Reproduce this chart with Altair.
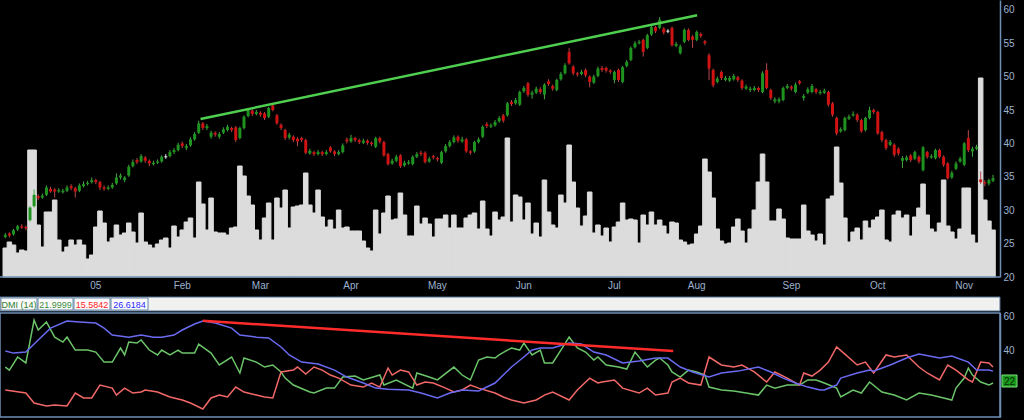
import altair as alt
import pandas as pd

# ---------------- price data (daily candles, trading-day index) ----------------
open_ = [
    26.0, 26.5, 26.4, 27.1, 27.6, 27.5, 28.5, 30.6, 32.1, 31.9,
    32.3, 33.2, 33.1, 32.8, 32.7, 32.9, 33.6, 33.3, 32.9, 33.6,
    33.9, 34.2, 34.5, 34.2, 33.4, 33.2, 33.4, 34.0, 34.9, 34.5,
    35.2, 36.6, 37.5, 37.3, 37.9, 37.4, 36.9, 37.1, 37.3, 38.0,
    38.1, 38.7, 39.0, 40.0, 39.3, 39.7, 40.6, 41.6, 43.0, 42.3,
    41.0, 41.6, 41.0, 41.6, 42.0, 42.3, 42.4, 40.8, 42.3, 44.1,
    44.9, 44.4, 44.6, 44.5, 44.0, 45.7, 44.2, 42.8, 42.0, 40.9,
    41.0, 40.7, 40.8, 40.5, 38.5, 38.7, 38.4, 38.7, 38.4, 39.4,
    38.8, 38.4, 38.7, 40.6, 40.3, 40.8, 40.5, 40.1, 40.4, 40.1,
    39.5, 40.8, 40.2, 38.4, 37.0, 37.4, 38.2, 36.7, 37.0, 36.9,
    38.0, 38.6, 38.6, 37.3, 38.1, 37.8, 37.1, 38.8, 39.6, 40.2,
    41.0, 40.3, 40.6, 38.8, 38.8, 40.2, 41.0, 42.9, 42.5, 42.7,
    43.3, 44.2, 44.2, 46.2, 46.0, 45.8, 47.8, 49.0, 47.3, 47.6,
    48.1, 47.3, 49.3, 48.6, 48.0, 49.6, 50.5, 53.7, 51.5, 50.5,
    50.4, 51.0, 50.0, 49.1, 50.1, 51.3, 51.3, 50.9, 49.5, 51.0,
    49.2, 51.6, 52.5, 54.4, 55.0, 55.5, 54.3, 56.3, 57.4, 57.3,
    57.2, 56.8, 57.3, 54.6, 53.5, 55.2, 57.0, 56.0, 55.5, 56.4,
    55.3, 53.2, 51.0, 49.2, 50.7, 49.5, 49.4, 49.6, 49.9, 49.4,
    48.2, 48.0, 48.0, 48.3, 47.7, 51.0, 48.0, 46.3, 46.3, 46.5,
    48.3, 48.5, 47.7, 49.3, 46.8, 47.6, 47.7, 48.1, 47.5, 47.6,
    47.7, 46.0, 43.8, 41.8, 42.0, 43.7, 44.2, 44.3, 43.5, 42.0,
    43.8, 45.0, 44.7, 41.7, 40.5, 39.8, 39.8, 39.2, 37.4, 37.5,
    38.2, 37.7, 38.0, 36.0, 38.7, 37.9, 37.8, 39.0, 38.0, 37.0,
    34.9, 36.2, 37.3, 36.8, 40.8, 38.8, 39.2, 34.6, 34.2, 34.0,
    34.4,
]
close = [
    26.3, 26.2, 27.0, 27.6, 27.4, 27.3, 30.4, 32.3, 31.8, 32.2,
    33.4, 32.8, 32.8, 33.0, 32.9, 33.4, 33.3, 32.8, 33.7, 33.9,
    34.1, 34.5, 34.2, 33.4, 33.2, 33.4, 33.8, 34.9, 35.2, 34.9,
    36.5, 37.2, 37.2, 38.1, 37.4, 37.0, 37.1, 37.3, 38.0, 38.0,
    38.7, 39.0, 39.8, 39.6, 39.6, 40.6, 41.4, 43.0, 42.3, 42.6,
    41.6, 41.3, 41.4, 42.1, 42.5, 42.0, 40.5, 42.3, 44.0, 45.0,
    44.4, 44.7, 44.3, 43.8, 45.3, 45.0, 43.0, 42.3, 40.8, 41.3,
    40.5, 40.3, 40.5, 38.6, 38.9, 38.4, 38.7, 38.4, 38.7, 38.8,
    38.4, 38.7, 39.7, 40.3, 40.8, 40.5, 40.2, 40.4, 40.1, 39.9,
    40.8, 40.3, 38.2, 36.9, 37.4, 38.0, 36.6, 37.1, 37.2, 38.0,
    38.4, 38.4, 37.2, 37.7, 37.9, 37.6, 38.7, 39.6, 40.2, 40.9,
    40.4, 40.6, 38.8, 38.6, 40.2, 40.6, 42.5, 42.6, 42.7, 43.2,
    43.8, 43.4, 46.0, 45.9, 46.5, 47.7, 48.3, 47.3, 47.6, 48.2,
    47.7, 48.8, 48.9, 48.2, 49.5, 50.4, 51.7, 52.0, 50.5, 50.3,
    50.7, 50.2, 49.2, 50.0, 51.2, 51.0, 50.9, 50.7, 50.7, 49.5,
    51.4, 52.2, 54.3, 55.0, 55.2, 53.7, 56.2, 57.4, 56.8, 58.5,
    56.6, 56.8, 54.7, 54.9, 54.5, 57.0, 55.5, 55.5, 56.7, 56.1,
    55.0, 51.2, 48.7, 49.7, 49.8, 49.8, 49.8, 50.1, 49.5, 48.3,
    48.5, 48.2, 48.3, 48.0, 50.5, 48.3, 46.8, 46.6, 46.6, 48.3,
    48.6, 48.2, 48.8, 49.0, 47.1, 48.1, 48.6, 47.7, 47.7, 47.9,
    45.8, 44.3, 41.5, 42.1, 43.8, 44.0, 44.4, 43.5, 41.8, 43.8,
    45.0, 44.7, 41.5, 40.5, 39.3, 40.2, 38.3, 38.5, 37.8, 37.9,
    37.5, 38.7, 37.3, 39.4, 38.0, 38.1, 39.0, 38.0, 36.8, 34.8,
    35.6, 37.0, 37.7, 40.0, 39.0, 39.2, 39.5, 34.2, 34.0, 34.5,
    34.8,
]
high = [
    26.6, 26.7, 27.2, 27.8, 27.9, 27.7, 30.6, 33.1, 32.4, 32.5,
    33.7, 33.5, 33.3, 33.3, 33.2, 33.7, 33.9, 33.5, 34.0, 34.3,
    34.4, 34.9, 34.7, 34.4, 33.7, 33.7, 34.1, 35.5, 35.5, 35.1,
    36.8, 37.6, 37.8, 38.4, 38.1, 37.6, 37.4, 37.6, 38.2, 38.4,
    39.0, 39.3, 40.1, 40.3, 39.9, 40.9, 41.7, 43.4, 43.2, 42.9,
    41.9, 41.8, 41.7, 42.4, 42.8, 42.5, 42.6, 42.5, 44.2, 45.3,
    45.1, 45.0, 44.8, 44.7, 45.5, 46.0, 44.4, 43.0, 42.2, 41.6,
    41.2, 40.9, 41.0, 40.7, 39.2, 38.9, 39.0, 38.9, 39.0, 39.6,
    39.0, 39.0, 40.0, 40.9, 41.3, 41.0, 40.7, 40.7, 40.6, 40.3,
    41.0, 41.0, 40.4, 38.6, 37.7, 38.3, 38.4, 37.4, 37.5, 38.2,
    38.7, 38.9, 38.8, 38.0, 38.3, 38.0, 38.9, 39.9, 40.5, 41.2,
    41.2, 41.0, 40.8, 39.0, 40.4, 40.9, 42.7, 43.2, 43.0, 43.5,
    44.1, 44.4, 46.2, 46.5, 46.8, 47.9, 48.6, 49.2, 47.9, 48.5,
    48.4, 49.0, 49.6, 48.8, 49.7, 50.7, 52.0, 54.3, 51.7, 50.7,
    51.0, 51.2, 50.2, 50.3, 51.5, 51.6, 51.5, 51.1, 50.9, 51.2,
    51.6, 52.5, 54.5, 55.3, 55.5, 55.7, 56.4, 57.7, 57.6, 58.9,
    57.4, 57.1, 57.5, 55.2, 54.8, 57.2, 57.2, 56.2, 56.9, 56.6,
    55.5, 53.5, 51.2, 50.0, 50.9, 50.1, 50.1, 50.4, 50.1, 49.6,
    48.8, 48.5, 48.6, 48.5, 50.8, 52.0, 48.2, 46.9, 46.9, 48.5,
    48.9, 48.7, 49.1, 49.5, 47.4, 48.4, 48.9, 48.3, 48.0, 48.2,
    47.9, 46.2, 44.0, 42.4, 44.0, 44.3, 44.8, 44.5, 43.7, 44.0,
    45.5, 45.2, 44.9, 41.9, 40.7, 40.5, 40.0, 39.4, 38.1, 38.2,
    38.4, 38.9, 38.2, 39.6, 38.9, 38.4, 39.2, 39.2, 38.2, 37.2,
    35.9, 37.3, 38.0, 40.2, 42.0, 39.5, 39.8, 35.8, 34.5, 34.7,
    35.3,
]
low = [
    25.8, 25.9, 26.2, 26.9, 27.2, 27.0, 28.3, 30.4, 31.5, 31.7,
    32.1, 32.6, 31.9, 32.6, 32.5, 32.7, 33.0, 31.9, 32.7, 33.4,
    33.7, 34.0, 33.9, 33.0, 32.9, 33.0, 33.2, 33.8, 34.6, 34.2,
    35.0, 36.4, 36.9, 37.1, 37.1, 36.6, 36.7, 36.9, 37.1, 37.7,
    37.9, 38.4, 38.8, 39.3, 39.0, 39.5, 40.4, 41.4, 42.0, 42.0,
    40.7, 41.0, 40.7, 41.4, 41.8, 41.7, 40.2, 40.6, 42.1, 43.9,
    44.1, 44.2, 44.0, 43.5, 43.8, 44.8, 42.8, 42.0, 40.5, 40.6,
    40.2, 39.6, 40.2, 38.4, 38.3, 38.1, 38.2, 38.1, 38.2, 38.6,
    38.1, 38.2, 38.5, 40.0, 40.1, 40.2, 39.9, 39.9, 39.8, 39.6,
    39.3, 40.0, 38.0, 36.7, 36.8, 37.2, 36.3, 36.5, 36.8, 36.7,
    37.8, 38.1, 37.0, 37.1, 37.6, 37.3, 36.9, 38.6, 39.4, 40.0,
    40.1, 40.1, 38.6, 38.3, 38.6, 40.0, 40.8, 42.3, 42.3, 42.5,
    43.1, 43.1, 44.0, 45.6, 45.8, 45.6, 47.6, 47.0, 46.7, 47.4,
    47.4, 46.6, 48.6, 47.9, 47.8, 49.4, 50.3, 51.8, 50.2, 50.0,
    50.2, 49.9, 48.4, 48.9, 49.9, 50.7, 50.6, 50.4, 49.0, 49.2,
    49.0, 51.4, 52.3, 54.2, 54.8, 53.0, 54.1, 56.1, 56.5, 57.1,
    56.3, 56.5, 54.5, 54.4, 53.3, 55.0, 55.3, 54.3, 55.3, 55.8,
    54.7, 49.5, 48.4, 49.0, 49.5, 49.3, 49.2, 49.4, 49.2, 48.0,
    48.0, 47.7, 47.8, 47.7, 47.5, 48.1, 46.5, 46.0, 46.0, 46.3,
    48.1, 47.9, 47.5, 48.8, 46.4, 47.4, 47.5, 47.4, 47.3, 47.4,
    45.5, 44.0, 41.2, 41.6, 41.8, 43.5, 44.0, 43.2, 41.6, 41.8,
    43.6, 44.4, 41.3, 40.2, 39.0, 39.6, 38.0, 38.2, 36.3, 37.3,
    37.2, 37.5, 37.0, 35.8, 37.7, 37.7, 37.6, 37.8, 36.5, 34.6,
    34.7, 36.0, 37.1, 36.6, 38.7, 38.0, 39.0, 33.9, 33.6, 33.7,
    34.2,
]
# volume (millions of shares)
volume = [
    2.9, 3.5, 3.2, 2.4, 2.7, 2.6, 12.7, 12.7, 5.2, 3.0,
    6.5, 6.5, 7.7, 3.7, 2.5, 3.0, 3.7, 3.2, 3.7, 3.2,
    1.8, 2.2, 5.0, 6.6, 5.4, 3.5, 3.9, 5.2, 4.2, 4.4,
    5.4, 4.5, 3.4, 6.4, 3.5, 3.2, 2.9, 3.3, 3.7, 3.9,
    2.9, 5.1, 4.0, 4.7, 5.5, 5.9, 3.9, 9.5, 7.3, 4.7,
    7.9, 4.5, 4.4, 4.4, 4.2, 4.9, 5.0, 11.1, 10.1, 8.1,
    7.2, 4.7, 3.7, 5.9, 7.4, 3.7, 7.9, 6.9, 8.7, 4.9,
    7.0, 7.1, 7.2, 10.4, 7.2, 6.4, 8.7, 6.0, 5.0, 5.7,
    4.8, 6.7, 4.9, 5.0, 4.6, 4.6, 4.6, 3.6, 2.9, 2.6,
    6.7, 4.3, 6.4, 8.1, 5.7, 5.8, 8.4, 6.2, 4.1, 4.1,
    7.1, 5.3, 5.9, 5.3, 4.0, 5.8, 5.8, 6.2, 4.9, 6.2,
    4.9, 4.9, 5.9, 6.2, 6.4, 4.8, 7.6, 4.8, 4.1, 6.5,
    5.7, 6.0, 13.9, 5.5, 8.2, 8.0, 5.7, 7.4, 4.3, 5.4,
    4.0, 9.7, 6.5, 5.2, 4.9, 8.2, 7.4, 13.2, 9.5, 6.9,
    5.1, 6.1, 8.5, 4.4, 5.2, 4.1, 4.9, 3.5, 5.0, 5.5,
    7.4, 5.7, 5.8, 5.7, 3.4, 6.2, 5.2, 6.5, 5.2, 5.7,
    5.1, 4.3, 5.5, 5.4, 3.7, 3.5, 3.2, 3.3, 4.3, 5.1,
    11.8, 10.5, 7.9, 4.8, 3.6, 3.3, 3.4, 5.0, 5.8, 4.6,
    3.4, 4.8, 6.7, 9.5, 12.3, 9.5, 5.6, 5.6, 6.8, 5.8,
    3.9, 3.8, 3.8, 3.8, 7.2, 4.6, 4.2, 3.6, 4.3, 3.2,
    7.8, 8.1, 13.0, 9.4, 5.9, 3.5, 4.5, 4.9, 3.7, 5.6,
    4.9, 5.7, 6.0, 6.7, 3.7, 3.5, 6.2, 6.6, 5.9, 6.2,
    4.1, 6.0, 6.9, 9.3, 6.2, 4.8, 4.5, 5.4, 9.7, 5.1,
    4.5, 3.8, 4.8, 8.9, 8.9, 4.2, 3.4, 19.9, 7.7, 5.6,
    4.7,
]

# month labels (first trading day index of each month)
month_names = ["05", "Feb", "Mar", "Apr", "May", "Jun", "Jul", "Aug", "Sep", "Oct", "Nov"]
month_days = [22, 43, 62, 84, 105, 126, 148, 168, 191, 212, 233]

# price trend line (resistance)
trend_days = [47.44, 168.1]
trend_price = [43.65, 59.2]

# ---------------- DMI (14) ----------------
blue_days = [0, 2, 5, 8, 11, 15, 18, 22, 24, 26, 30, 33, 36, 38, 41, 43, 46, 48, 51, 55,
             57, 61, 64, 67, 69, 72, 76, 80, 83, 87, 90, 93, 98, 101, 105, 108, 111, 115, 119, 121,
             123, 126, 128, 130, 133, 137, 140, 143, 146, 150, 154, 158, 161, 164, 167, 171, 174, 178, 183, 186,
             189, 192, 195, 198, 199, 202, 203, 207, 210, 211, 215, 219, 222, 227, 230, 234, 236, 239, 240]
blue_vals = [39.4, 38.2, 38.8, 45.9, 52.9, 57.1, 56.5, 55.9, 52.9, 48.8, 47.6, 48.8, 47.6, 47.6, 48.8, 51.8, 55.3, 57.1, 55.9, 52.9,
             48.8, 47.6, 47.1, 41.8, 37.1, 32.9, 31.8, 28.2, 24.1, 20.6, 17.6, 17.0, 16.5, 14.7, 11.8, 14.7, 16.5, 15.9, 20.6, 25.3,
             30.0, 35.9, 40.0, 41.2, 41.2, 44.1, 43.5, 38.8, 37.1, 32.4, 33.5, 35.3, 35.3, 30.0, 27.1, 24.1, 26.5, 27.6, 30.0, 27.1,
             23.5, 20.6, 18.2, 16.5, 16.5, 19.4, 23.5, 26.5, 28.2, 27.6, 31.2, 35.3, 37.6, 35.3, 36.5, 32.9, 28.2, 28.2, 27.6]
green_days = [0, 1, 3, 5, 7, 8, 10, 12, 14, 15, 17, 20, 22, 24, 26, 28, 29, 30, 32, 33,
              35, 37, 38, 40, 42, 43, 46, 47, 50, 52, 55, 57, 58, 61, 63, 65, 67, 68, 70, 74,
              75, 78, 80, 82, 85, 87, 91, 92, 95, 99, 100, 103, 105, 109, 111, 113, 115, 117, 119, 120,
              122, 123, 125, 126, 128, 130, 131, 133, 135, 137, 139, 141, 143, 144, 146, 149, 151, 153, 155, 156,
              158, 159, 161, 162, 164, 166, 168, 170, 171, 174, 177, 180, 183, 185, 187, 190, 193, 195, 197, 199,
              202, 203, 206, 208, 210, 213, 216, 219, 222, 225, 227, 230, 231, 233, 234, 235, 237, 239, 240]
green_vals = [30.0, 28.2, 35.9, 32.4, 57.6, 51.8, 56.5, 47.6, 44.7, 47.6, 40.0, 40.0, 38.8, 32.9, 32.9, 41.2, 37.1, 44.7, 44.1, 45.9,
              40.0, 37.1, 40.0, 37.1, 40.0, 38.2, 38.2, 43.5, 38.2, 31.2, 35.9, 26.5, 35.3, 32.9, 30.0, 31.2, 27.1, 23.5, 19.4, 15.3,
              14.7, 17.6, 17.6, 24.1, 24.7, 22.4, 25.3, 19.4, 22.4, 17.6, 26.5, 24.1, 22.4, 30.0, 25.3, 22.4, 34.1, 35.9, 35.3, 37.1,
              40.0, 41.2, 40.0, 44.1, 37.1, 40.0, 32.4, 32.4, 40.0, 47.6, 41.2, 38.8, 34.1, 35.9, 31.2, 30.0, 28.8, 38.8, 32.9, 30.0,
              34.1, 35.3, 31.2, 27.1, 24.1, 28.2, 27.1, 25.3, 18.2, 16.5, 15.9, 14.7, 13.5, 19.4, 17.6, 19.4, 19.4, 22.4, 22.4, 20.6,
              17.6, 12.4, 16.5, 14.7, 21.2, 15.3, 13.5, 10.6, 14.7, 13.5, 12.4, 10.6, 17.6, 23.5, 29.4, 25.3, 21.2, 19.4, 20.6]
red_days = [0, 5, 7, 10, 12, 15, 17, 19, 21, 23, 26, 27, 29, 31, 33, 34, 37, 40, 43, 45,
            48, 50, 52, 54, 56, 58, 61, 63, 65, 67, 70, 71, 73, 75, 77, 79, 81, 84, 87, 89,
            91, 93, 94, 96, 98, 100, 102, 104, 107, 109, 111, 113, 115, 119, 121, 123, 126, 129, 131, 133,
            137, 139, 142, 144, 145, 148, 150, 154, 156, 158, 161, 162, 164, 166, 169, 171, 174, 177, 179, 182,
            185, 187, 190, 193, 194, 196, 198, 200, 202, 204, 207, 209, 211, 214, 216, 219, 222, 224, 227, 229,
            231, 234, 235, 237, 239, 240]
red_vals = [16.5, 14.7, 8.8, 7.1, 7.6, 7.1, 14.7, 11.8, 11.8, 19.4, 17.6, 13.5, 17.6, 14.7, 15.3, 16.5, 15.3, 12.4, 10.6, 8.8,
            5.3, 11.8, 13.5, 12.4, 18.2, 15.3, 13.5, 12.4, 11.8, 27.1, 28.2, 30.0, 25.9, 30.0, 28.2, 25.3, 23.5, 19.4, 18.2, 20.6,
            18.2, 29.4, 25.3, 28.2, 27.1, 19.4, 21.2, 20.6, 17.6, 15.3, 16.5, 19.4, 17.6, 14.7, 12.4, 10.6, 8.8, 10.6, 13.5, 15.3,
            10.6, 16.5, 23.5, 20.6, 21.2, 22.4, 17.6, 14.7, 17.6, 13.5, 14.7, 21.2, 23.5, 20.6, 19.4, 35.9, 31.2, 30.0, 31.2, 27.1,
            21.2, 27.1, 23.5, 19.4, 26.5, 24.7, 28.2, 32.9, 41.8, 37.6, 31.2, 32.9, 26.5, 37.1, 35.9, 37.1, 30.0, 26.5, 22.4, 31.2,
            28.2, 22.4, 21.2, 32.9, 32.4, 30.0]
dmi_trend_days = [48.0, 162.3]
dmi_trend_vals = [57.2, 39.4]

dmi_legend = ["DMI (14)", "21.9999", "15.5842", "26.6184"]
dmi_badge = "22"

# ---------------- styling ----------------
AXIS_COL = "#6f8fb5"
LABEL_COL = "#9db2cf"
FONT = "Liberation Sans"
UP, DOWN, FLAT = "#1f931f", "#d01212", "#e6e6e6"
UP_W, DOWN_W = "#45a845", "#b84a4a"

N = len(close)
days = list(range(N))

xsc = alt.Scale(domain=[-0.07, 240.48], nice=False, zero=False)
price_sc = alt.Scale(domain=[20, 61.47], range=[277, 0], nice=False, zero=False)
vol_sc = alt.Scale(domain=[0, 27.7], range=[277, 0], nice=False, zero=False)
dmi_sc = alt.Scale(domain=[0.6, 61.8], range=[417, 313], nice=False, zero=False)

price_axis = alt.Axis(orient="right", values=[20, 25, 30, 35, 40, 45, 50, 55, 60], ticks=False, grid=False,
                      domainColor=AXIS_COL, domainWidth=1.5, labelColor=LABEL_COL, labelFont=FONT,
                      labelFontSize=10, labelPadding=3, title=None, labelAlign="left")
dmi_axis = alt.Axis(orient="right", values=[40, 60], ticks=False, grid=False,
                    domainColor=AXIS_COL, domainWidth=1.5, labelColor=LABEL_COL, labelFont=FONT,
                    labelFontSize=10, labelPadding=3, title=None, labelAlign="left")

ONE = pd.DataFrame({"k": [0]})


def deco_rect(x0, x1, y0, y1, **kw):
    return alt.Chart(ONE).mark_rect(**kw).encode(
        x=alt.value(x0), x2=alt.value(x1), y=alt.value(y0), y2=alt.value(y1))


def deco_text(x, y, txt, **kw):
    return alt.Chart(ONE).mark_text(**kw).encode(
        x=alt.value(x), y=alt.value(y), text=alt.value(txt))


# volume (solid step histogram)
vol_df = pd.DataFrame({"day": days, "volume": volume})
vol_layer = alt.Chart(vol_df).transform_calculate(
    d0="datum.day - 0.55", d1="datum.day + 0.55", base="0"
).mark_rect(color="#dcdcdc", stroke="#dcdcdc", strokeWidth=1).encode(
    x=alt.X("d0:Q", scale=xsc, axis=None), x2="d1:Q",
    y=alt.Y("volume:Q", scale=vol_sc, axis=None), y2="base:Q")

# candles
cdf = pd.DataFrame({"day": days, "open": open_, "high": high, "low": low, "close": close})
cdf["lo"] = cdf[["open", "close"]].min(axis=1)
cdf["hi"] = cdf[["open", "close"]].max(axis=1)
thin = (cdf["hi"] - cdf["lo"]) < 0.16
cdf.loc[thin, "lo"] = cdf.loc[thin, "lo"] - 0.08
cdf.loc[thin, "hi"] = cdf.loc[thin, "hi"] + 0.08

wick_col = alt.when(alt.datum.close > alt.datum.open).then(alt.value(UP_W)).when(
    alt.datum.close < alt.datum.open).then(alt.value(DOWN_W)).otherwise(alt.value(FLAT))
body_col = alt.when(alt.datum.close > alt.datum.open).then(alt.value(UP)).when(
    alt.datum.close < alt.datum.open).then(alt.value(DOWN)).otherwise(alt.value(FLAT))

wicks = alt.Chart(cdf).mark_rule(strokeWidth=1).encode(
    x=alt.X("day:Q", scale=xsc, axis=None),
    y=alt.Y("low:Q", scale=price_sc, axis=price_axis), y2="high:Q", color=wick_col)
bodies = alt.Chart(cdf).mark_bar(size=3).encode(
    x=alt.X("day:Q", scale=xsc, axis=None),
    y=alt.Y("lo:Q", scale=price_sc, axis=price_axis), y2="hi:Q", color=body_col)
trend = alt.Chart(pd.DataFrame({"day": trend_days, "price": trend_price})).mark_line(
    color="#4fcf4f", strokeWidth=2.5).encode(
    x=alt.X("day:Q", scale=xsc, axis=None),
    y=alt.Y("price:Q", scale=price_sc, axis=price_axis))
price_layer = alt.layer(wicks, bodies, trend)

# month labels
months = alt.Chart(pd.DataFrame({"day": month_days, "name": month_names})).mark_text(
    font=FONT, fontSize=10, color=LABEL_COL, baseline="middle").encode(
    x=alt.X("day:Q", scale=xsc, axis=None), y=alt.value(286), text="name:N")

# DMI
dmi_df = pd.concat([
    pd.DataFrame({"day": green_days, "value": green_vals, "series": "g"}),
    pd.DataFrame({"day": red_days, "value": red_vals, "series": "r"}),
    pd.DataFrame({"day": blue_days, "value": blue_vals, "series": "b"}),
], ignore_index=True)
dmi_lines = alt.Chart(dmi_df).mark_line(strokeWidth=1.5).encode(
    x=alt.X("day:Q", scale=xsc, axis=None),
    y=alt.Y("value:Q", scale=dmi_sc, axis=dmi_axis),
    color=alt.Color("series:N", scale=alt.Scale(domain=["g", "r", "b"],
                                                range=["#6cc46a", "#f26868", "#6a6af2"]), legend=None))
dmi_trend = alt.Chart(pd.DataFrame({"day": dmi_trend_days, "value": dmi_trend_vals})).mark_line(
    color="#ff2b2b", strokeWidth=2.5).encode(
    x=alt.X("day:Q", scale=xsc, axis=None),
    y=alt.Y("value:Q", scale=dmi_sc, axis=dmi_axis))
dmi_layer = alt.layer(dmi_lines, dmi_trend)

# decorations
top_base = alt.Chart(ONE).mark_rule(color=AXIS_COL, strokeWidth=1.5).encode(
    x=alt.value(0), x2=alt.value(1000), y=alt.value(277))
header = deco_rect(0, 1000, 297, 311, fill="#f1f1f1", stroke="#4f6f8f", strokeWidth=1)
box_x = [(1, 37), (38, 73), (74, 110), (111, 148)]
box_cols = ["#2e7d2e", "#3c8c3c", "#ff2222", "#2a2aff"]
boxes = [deco_rect(a, b, 298, 310, fill="#fbfbfb", stroke="#6686a6", strokeWidth=1) for a, b in box_x]
texts = [deco_text((a + b) / 2, 304.5, t, font=FONT, fontSize=9, color=c, baseline="middle", align="center")
         for (a, b), t, c in zip(box_x, dmi_legend, box_cols)]
dmi_frame = deco_rect(0, 1000, 313, 417, fillOpacity=0, stroke=AXIS_COL, strokeWidth=1.5)
badge = deco_rect(1002, 1017, 375, 387, fill="#1c9a1c", stroke="#7fe07f", strokeWidth=1)
badge_text = deco_text(1009.5, 381.5, dmi_badge, font=FONT, fontSize=10, color="#062806",
                       baseline="middle", align="center")

chart = alt.layer(
    vol_layer, price_layer, top_base, months, header, *boxes, *texts,
    dmi_layer, dmi_frame, badge, badge_text
).resolve_scale(y="independent").properties(
    width=1000, height=417,
    autosize=alt.AutoSizeParams(type="none"),
    padding={"left": 0, "top": 0, "right": 24, "bottom": 3},
    background="#000000",
).configure_view(stroke=None)

chart.save("out.html", embed_options={"renderer": "svg", "actions": False})
